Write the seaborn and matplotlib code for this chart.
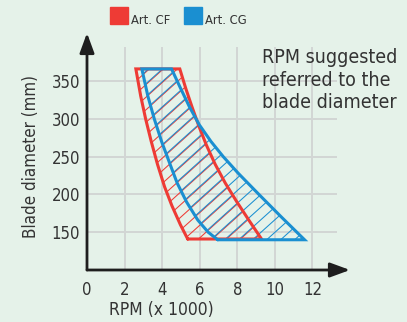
import numpy as np
import pandas as pd
import seaborn as sns
import matplotlib.pyplot as plt
from matplotlib import font_manager as fm
from matplotlib.patches import Polygon, Rectangle
from matplotlib.collections import LineCollection
from matplotlib.transforms import IdentityTransform

# RPM (x 1000) read at blade diameters (mm), low and high edge of each band
cf_low_diam = [141, 160, 185, 210, 240, 270, 300, 330, 366]
cf_low_rpm = [5.36, 4.97, 4.52, 4.13, 3.75, 3.42, 3.12, 2.86, 2.60]
cf_high_diam = [366, 340, 315, 290, 265, 240, 215, 190, 165, 141]
cf_high_rpm = [4.94, 5.26, 5.60, 5.96, 6.36, 6.82, 7.36, 7.98, 8.64, 9.29]

cg_low_diam = [140, 150, 166, 190, 215, 240, 270, 300, 330, 366]
cg_low_rpm = [6.96, 6.45, 5.90, 5.30, 4.80, 4.42, 3.97, 3.58, 3.24, 2.92]
cg_high_diam = [366, 342, 316, 292, 270, 250, 228, 200, 170, 140]
cg_high_rpm = [4.50, 4.95, 5.45, 5.98, 6.60, 7.25, 8.05, 9.15, 10.35, 11.58]

series = ['Art. CF', 'Art. CG']
colors = ['#ee3b35', '#1a8fd1']
x_ticks = [0, 2, 4, 6, 8, 10, 12]
y_ticks = [150, 200, 250, 300, 350]
note = 'RPM suggested\nreferred to the\nblade diameter'

bg = '#e5f2e9'
grid_c = '#d2d6d4'
txt = '#333333'

sns.set_theme(style='white', rc={'axes.facecolor': bg, 'figure.facecolor': bg})

# the original uses a condensed face; take one if the system has it
cond = [f for f in fm.fontManager.ttflist
        if f.stretch == 'condensed' and f.style == 'normal'
        and str(f.weight) in ('400', 'normal', 'regular', 'book')]
picked = None
for key in ['Liberation', 'DejaVu', 'Noto', 'Roboto', 'Open']:
    hits = [f for f in cond if key in f.name]
    if hits:
        picked = hits[0].name
        break
if picked is None and cond:
    picked = cond[0].name
if picked:
    plt.rcParams['font.family'] = [picked, 'DejaVu Sans']
    plt.rcParams['font.stretch'] = 'condensed'
    k = 1.0
else:
    plt.rcParams['font.family'] = ['Liberation Sans', 'DejaVu Sans']
    k = 0.95

fig = plt.figure(figsize=(4.07, 3.22), dpi=100)
ax = fig.add_axes([87/407, 52/322, 263/407, 237/322])
ax.set_xlim(0, 14)
ax.set_ylim(100, 413.5)
for s in ax.spines.values():
    s.set_visible(False)

# grid, clipped short like the original
ax.vlines(x_ticks[1:], 100, 395, color=grid_c, lw=1.4, zorder=0)
ax.hlines(y_ticks, 0, 13.3, color=grid_c, lw=1.4, zorder=0)

bands = [
    (cf_low_rpm, cf_low_diam, cf_high_rpm, cf_high_diam),
    (cg_low_rpm, cg_low_diam, cg_high_rpm, cg_high_diam),
]

# hatch lines are made in pixels, then clipped to each band
ang = np.deg2rad(42)
step = 14
offsets = [0, 7]

for i, (lo_x, lo_y, hi_x, hi_y) in enumerate(bands):
    xs = list(lo_x) + list(hi_x) + [lo_x[0]]
    ys = list(lo_y) + list(hi_y) + [lo_y[0]]
    df = pd.DataFrame({'rpm': xs, 'diam': ys})

    poly = Polygon(np.column_stack([xs, ys]), closed=True, fill=False, lw=0)
    ax.add_patch(poly)

    pts = ax.transData.transform(np.column_stack([xs, ys]))
    x0, y0 = pts.min(axis=0)
    x1, y1 = pts.max(axis=0)
    h = y1 - y0
    segs = []
    for s0 in np.arange(x0 - h / np.tan(ang) - 20 + offsets[i], x1 + 20, step):
        segs.append([(s0, y0 - 5), (s0 + (h + 10) / np.tan(ang), y1 + 5)])
    lc = LineCollection(segs, colors=colors[i], linewidths=0.75,
                        transform=IdentityTransform(), zorder=2)
    ax.add_collection(lc)
    lc.set_clip_path(poly)

    sns.lineplot(data=df, x='rpm', y='diam', sort=False, estimator=None,
                 color=colors[i], lw=2.2, ax=ax, zorder=3 + i)
    ax.lines[-1].set_solid_joinstyle('miter')

# axes with arrow heads
arrow = dict(arrowstyle='-|>,head_length=0.6,head_width=0.22', color='#1e1e1e',
             lw=2, mutation_scale=20, shrinkA=0, shrinkB=0)
ax.annotate('', xy=(14, 100), xytext=(0, 100), arrowprops=arrow, annotation_clip=False)
ax.annotate('', xy=(0, 413.5), xytext=(0, 100), arrowprops=arrow, annotation_clip=False)

ax.set_xticks(x_ticks)
ax.set_yticks(y_ticks)
ax.tick_params(length=0, labelsize=12 * k, colors=txt)
ax.tick_params(axis='x', pad=8)
ax.tick_params(axis='y', pad=5)

ax.set_xlabel('RPM (x 1000)', fontsize=12.5 * k, color=txt)
ax.set_ylabel('Blade diameter (mm)', fontsize=12.2 * k, color=txt)
ax.xaxis.set_label_coords(0.281, -0.13)
ax.yaxis.set_label_coords(-0.18, 0.48)

# legend
leg_x = [110, 184]
for i, name in enumerate(series):
    fig.add_artist(Rectangle((leg_x[i] / 407, (322 - 24) / 322), 18 / 407, 17 / 322,
                             transform=fig.transFigure, color=colors[i]))
    fig.text((leg_x[i] + 21) / 407, (322 - 24) / 322, name, fontsize=9.3 * k,
             color=txt, va='baseline')

fig.text(262 / 407, (322 - 48) / 322, note, fontsize=14 * k, color=txt,
         va='top', ha='left', linespacing=1.25)

fig.savefig('out.png', dpi=100, facecolor=bg)
